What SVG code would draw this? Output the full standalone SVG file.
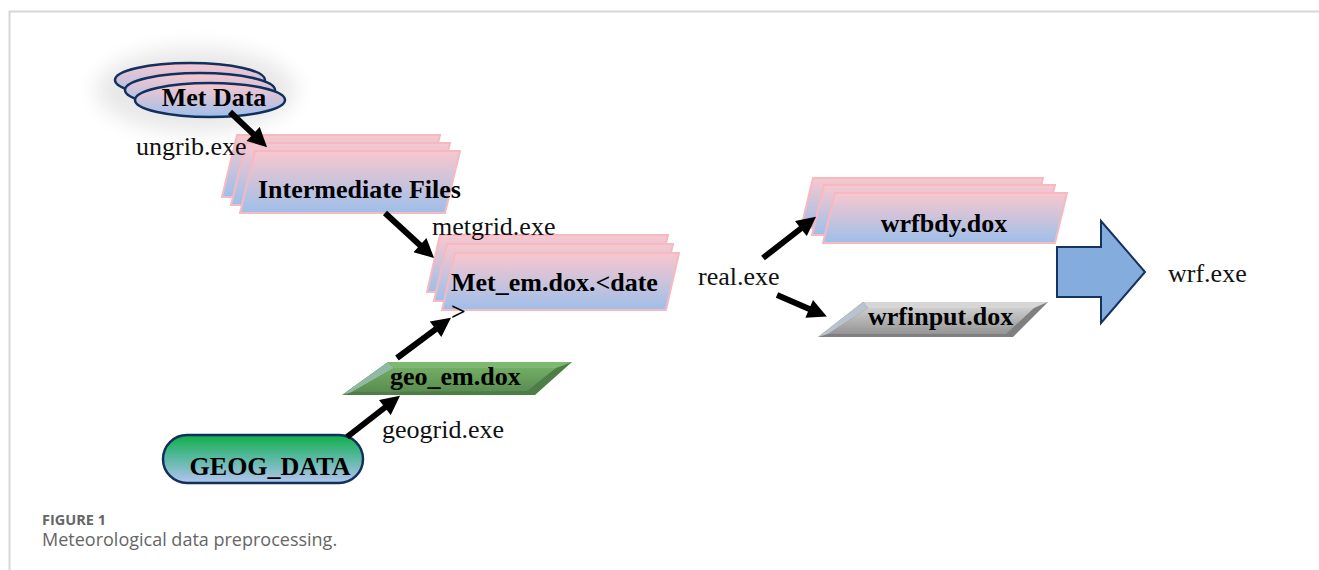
<svg xmlns="http://www.w3.org/2000/svg" width="1319" height="570" viewBox="0 0 1319 570">
<defs>
<linearGradient id="pb" x1="0" y1="0" x2="0" y2="1">
<stop offset="0" stop-color="#f9c7ce"/><stop offset="1" stop-color="#9ebfe9"/>
</linearGradient>
<linearGradient id="gb" x1="0" y1="0" x2="0" y2="1">
<stop offset="0" stop-color="#0fae48"/><stop offset="0.45" stop-color="#55b89c"/><stop offset="1" stop-color="#b4c4ef"/>
</linearGradient>
<linearGradient id="grn" x1="0" y1="0" x2="0" y2="1">
<stop offset="0" stop-color="#72ad64"/><stop offset="1" stop-color="#5a8c51"/>
</linearGradient>
<linearGradient id="gry" x1="0" y1="0" x2="0" y2="1">
<stop offset="0" stop-color="#cdcdcd"/><stop offset="1" stop-color="#959595"/>
</linearGradient>
<filter id="glow" x="-50%" y="-50%" width="200%" height="200%"><feGaussianBlur stdDeviation="10"/></filter>
<marker id="ah" viewBox="0 0 10 10" refX="3" refY="5" markerWidth="3.5" markerHeight="3.2" orient="auto">
<path d="M0,0 L10,5 L0,10 z" fill="#000"/>
</marker>
<style>
.b{font-family:"Liberation Serif","Times New Roman",serif;font-weight:bold;font-size:26px;fill:#000}
.r{font-family:"Liberation Serif","Times New Roman",serif;font-size:26px;fill:#111}
.pl{fill:url(#pb);stroke:#f7b9c0;stroke-width:2}
.ov{fill:url(#pb);stroke:#11305e;stroke-width:2.5}
.cn{stroke:#000;stroke-width:6;fill:none;marker-end:url(#ah)}
.cap{font-family:"Open Sans","Noto Sans",sans-serif;fill:#666}
</style>
</defs>
<rect width="1319" height="570" fill="#fff"/>
<g id="frame" stroke="#d6d6d6" stroke-width="2" fill="none">
<line x1="9" y1="11.5" x2="1319" y2="11.5"/>
<line x1="9.5" y1="11" x2="9.5" y2="570"/>
</g>
<g id="metdata">
<ellipse cx="196" cy="90" rx="100" ry="42" fill="#bdbdbd" opacity="0.35" filter="url(#glow)"/>
<ellipse class="ov" cx="190" cy="80" rx="75" ry="17"/>
<ellipse class="ov" cx="200" cy="90" rx="75" ry="17"/>
<ellipse class="ov" cx="210" cy="100" rx="75" ry="17"/>
<text class="b" x="214" y="106" text-anchor="middle">Met Data</text>
</g>
<g id="intermediate">
<polygon class="pl" points="237,135 440,135 425,197 222,197"/>
<polygon class="pl" points="246,143 450,143 435,205 231,205"/>
<polygon class="pl" points="255,151 460,151 445,213 240,213"/>
<text class="b" x="258" y="198">Intermediate Files</text>
</g>
<g id="metem">
<polygon class="pl" points="440,235 668,235 655,292 427,292"/>
<polygon class="pl" points="447,244 673,244 660,301 434,301"/>
<polygon class="pl" points="455,253 679,253 666,310 442,310"/>
<text class="b" x="451" y="291">Met_em.dox.&lt;date</text>
<text class="b" x="451" y="320">&gt;</text>
</g>
<g id="geoem">
<polygon points="388,362 572,362 535,395 342,395" fill="#4f7d47"/>
<polygon points="388,362 572,362 556,368 394,368" fill="#7fb971"/>
<polygon points="342,395 388,362 394,368 352,392" fill="#8fb9a0"/>
<polygon points="394,368 556,368 527,391 352,392" fill="url(#grn)"/>
<text class="b" x="390" y="385">geo_em.dox</text>
</g>
<g id="geog">
<rect x="163" y="435" width="200" height="48" rx="24" fill="url(#gb)" stroke="#11305e" stroke-width="2.5"/>
<text class="b" x="270" y="475" text-anchor="middle">GEOG_DATA</text>
</g>
<g id="wrfbdy">
<polygon class="pl" points="813,178 1043,178 1031,228 801,228"/>
<polygon class="pl" points="824,185 1055,185 1043,235 812,235"/>
<polygon class="pl" points="835,193 1067,193 1055,243 823,243"/>
<text class="b" x="944" y="232" text-anchor="middle">wrfbdy.dox</text>
</g>
<g id="wrfinput">
<polygon points="863,302 1048,302 1013,337 818,337" fill="#7f7f7f"/>
<polygon points="863,302 1048,302 1034,308 868,308" fill="#d6d6d6"/>
<polygon points="818,337 863,302 868,308 828,334" fill="#b9c3cf"/>
<polygon points="868,308 1034,308 1006,334 828,334" fill="url(#gry)"/>
<text class="b" x="868" y="325">wrfinput.dox</text>
</g>
<g id="wrf">
<polygon points="1057,247 1101,247 1101,221 1145,272 1101,323 1101,297 1057,297" fill="#84acdc" stroke="#16325e" stroke-width="2"/>
<text class="r" x="1168" y="282">wrf.exe</text>
</g>
<g id="connectors">
<line class="cn" x1="230" y1="112" x2="257.3" y2="137.9"/>
<line class="cn" x1="385" y1="213" x2="424.2" y2="249.0"/>
<line class="cn" x1="397" y1="358" x2="440.2" y2="325.8"/>
<line class="cn" x1="347" y1="437" x2="389.4" y2="404.0"/>
<line class="cn" x1="763" y1="258" x2="805.4" y2="225.0"/>
<line class="cn" x1="777" y1="295" x2="814.5" y2="311.2"/>
</g>
<g id="labels">
<text class="r" x="136" y="155">ungrib.exe</text>
<text class="r" x="432" y="235">metgrid.exe</text>
<text class="r" x="382" y="438">geogrid.exe</text>
<text class="r" x="698" y="285">real.exe</text>
</g>
<g id="caption">
<text class="cap" x="42" y="525" font-size="14.5" font-weight="bold">FIGURE 1</text>
<text class="cap" x="42" y="546" font-size="18">Meteorological data preprocessing.</text>
</g>
</svg>
